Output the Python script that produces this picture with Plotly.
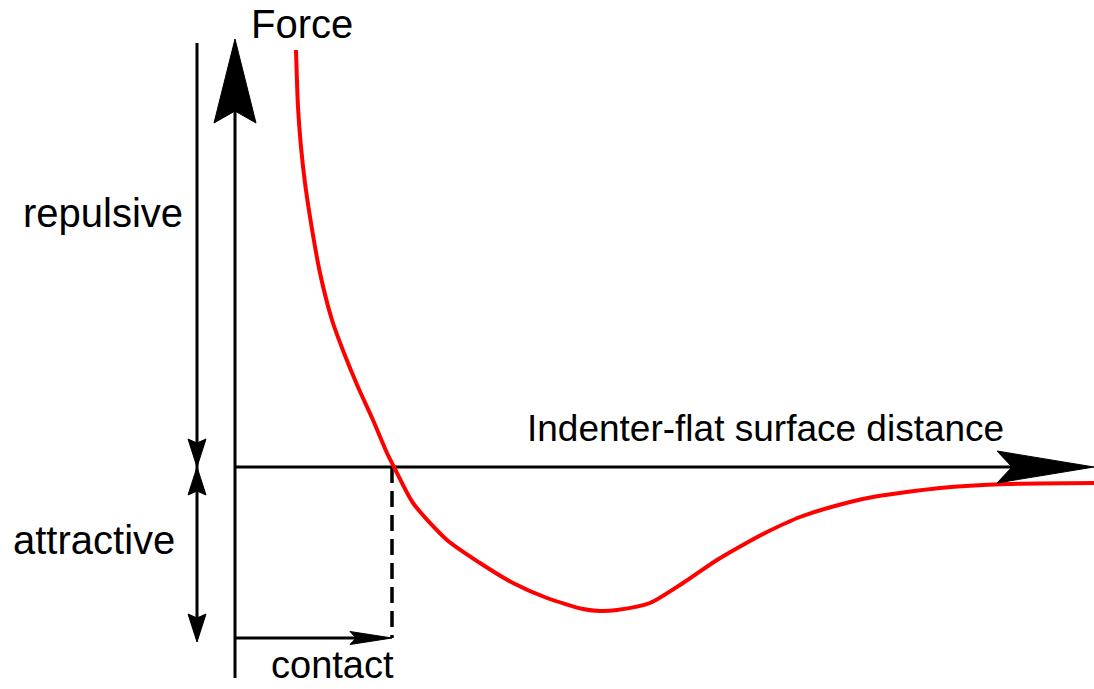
import plotly.graph_objects as go

# ---- data: force-distance curve (distance, force) ----
distance = [61, 63, 66, 70, 76, 85, 97, 109, 123, 138, 152, 159, 178, 212, 245, 278, 312,
            348, 365, 382, 415, 448, 482, 515, 532, 565, 615, 638, 705, 772, 859]
force = [417, 360, 320, 284, 244, 194, 147, 114, 80, 47, 14, 0, -36, -73, -96, -116, -131,
         -142, -144, -143, -136, -116, -93, -74, -65, -50, -35, -30, -21, -17, -16]

contact_distance = 157
labels = {
    "force": "Force",
    "distance": "Indenter-flat surface distance",
    "repulsive": "repulsive",
    "attractive": "attractive",
    "contact": "contact",
}

# ---- layout geometry (data units) ----
X_MIN, X_MAX = -235, 859
Y_MIN, Y_MAX = -222, 467
FORCE_TOP = 428
FORCE_BOTTOM = -211
LEFT_X = -38
LEFT_TOP = 424
LEFT_BOTTOM = -175
CONTACT_Y = -171

BLACK = "#000000"
RED = "#ff0000"
FONT = "Liberation Sans, Arial, sans-serif"


def head(tx, ty, dx, dy, length, half_w, notch):
    # arrowhead polygon, tip at (tx,ty), pointing along (dx,dy)
    bx, by = tx - dx * length, ty - dy * length
    px, py = -dy, dx
    nx, ny = bx + dx * notch, by + dy * notch
    pts = [(tx, ty), (bx + px * half_w, by + py * half_w), (nx, ny),
           (bx - px * half_w, by - py * half_w)]
    d = "M " + " L ".join(f"{x},{y}" for x, y in pts) + " Z"
    return dict(type="path", path=d, xref="x", yref="y",
                fillcolor=BLACK, line=dict(color=BLACK, width=1), layer="above")


def seg(x0, y0, x1, y1, width=3, dash="solid"):
    return dict(type="line", x0=x0, y0=y0, x1=x1, y1=y1, xref="x", yref="y",
                line=dict(color=BLACK, width=width, dash=dash), layer="below")


shapes = [
    # force axis
    seg(0, FORCE_BOTTOM, 0, FORCE_TOP - 60, 3),
    head(0, FORCE_TOP, 0, 1, 84, 21, 12),
    # distance axis
    seg(0, 0, X_MAX - 80, 0, 3),
    head(X_MAX, 0, 1, 0, 97, 16, 15),
    # repulsive / attractive double arrows
    seg(LEFT_X, LEFT_TOP, LEFT_X, LEFT_BOTTOM + 10, 3),
    head(LEFT_X, 0, 0, -1, 28, 9, 4),
    head(LEFT_X, 0, 0, 1, 28, 9, 4),
    head(LEFT_X, LEFT_BOTTOM, 0, -1, 28, 9, 4),
    # contact arrow and dashed line
    seg(0, CONTACT_Y, contact_distance - 20, CONTACT_Y, 3),
    head(contact_distance, CONTACT_Y, 1, 0, 42, 6.5, 6),
    seg(contact_distance, 0, contact_distance, CONTACT_Y, 3.5, "16px,8px"),
]

fig = go.Figure()
fig.add_trace(go.Scatter(
    x=distance, y=force, mode="lines",
    line=dict(color=RED, width=4, shape="spline", smoothing=0.7),
    hoverinfo="skip", showlegend=False,
))


def label(text, x, y, size=40):
    return dict(text=text, x=x, y=y, xref="x", yref="y", showarrow=False,
                xanchor="center", yanchor="middle",
                font=dict(family=FONT, size=size, color=BLACK))


annotations = [
    label(labels["force"], 67, 443),
    label(labels["repulsive"], -132, 254),
    label(labels["attractive"], -141, -73),
    label(labels["contact"], 97, -198, 38),
    label(labels["distance"], 530, 39, 37),
]

fig.update_layout(
    width=1094, height=689,
    margin=dict(l=0, r=0, t=0, b=0),
    paper_bgcolor="white", plot_bgcolor="white",
    xaxis=dict(range=[X_MIN, X_MAX], visible=False, fixedrange=True),
    yaxis=dict(range=[Y_MIN, Y_MAX], visible=False, fixedrange=True),
    shapes=shapes, annotations=annotations,
    showlegend=False,
)

fig.write_html(
    "out.html",
    config={"displayModeBar": False},
    post_script="document.body.style.margin='0';document.body.style.overflow='hidden';",
)
